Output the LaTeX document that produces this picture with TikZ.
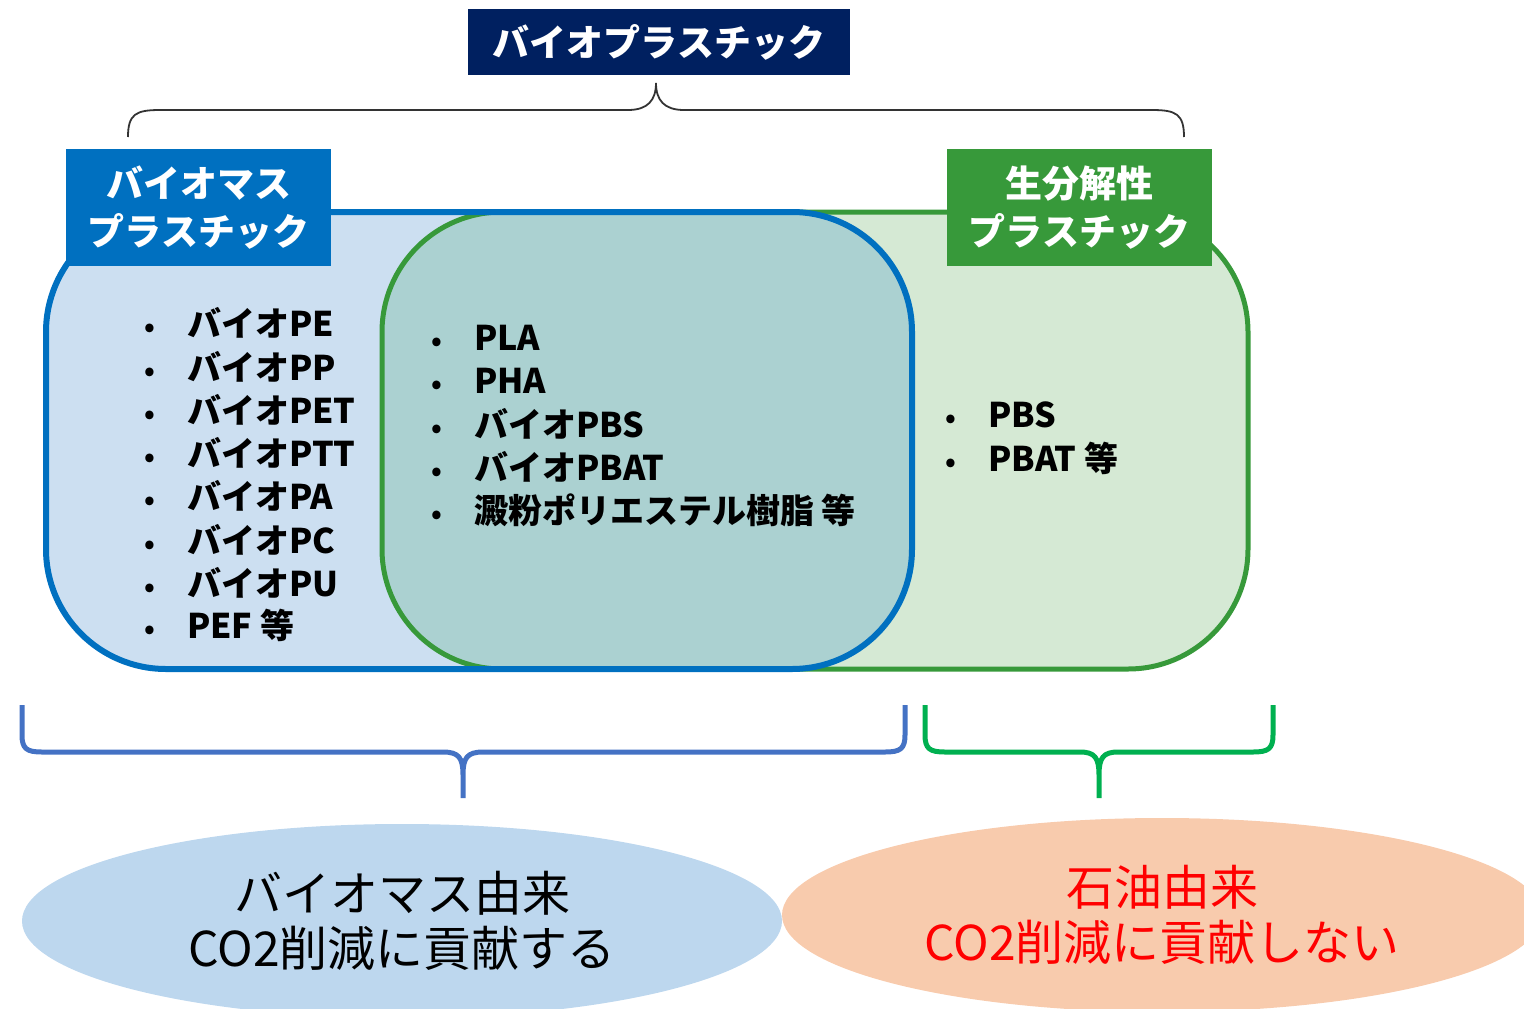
\documentclass[tikz,border=0pt]{standalone}
\usepackage{fontspec}
\newfontfamily\jp{Noto Sans CJK JP}
\usetikzlibrary{shapes.geometric}
\definecolor{navybox}{HTML}{002060}
\definecolor{bblue}{HTML}{0070C0}
\definecolor{bgreen}{HTML}{37993A}
\definecolor{lblue}{HTML}{CCDFF1}
\definecolor{lgreen}{HTML}{D5E9D4}
\definecolor{mixfill}{HTML}{ABD1D1}
\definecolor{braceblue}{HTML}{4472C4}
\definecolor{bracegreen}{HTML}{00B050}
\definecolor{ellblue}{HTML}{BDD7EE}
\definecolor{ellorange}{HTML}{F8CBAD}
\tikzset{
  labelbox/.style={minimum width=265pt, minimum height=117pt, inner sep=0pt, text=white, align=center,
    font=\jp\bfseries\fontsize{37}{48}\selectfont},
  item/.style={anchor=west, inner sep=0pt, text height=0.88em, text depth=0.12em,
    font=\jp\bfseries\fontsize{34}{40}\selectfont},
  bul/.style={inner sep=0pt, text height=0.88em, text depth=0.12em,
    font=\jp\bfseries\fontsize{27}{30}\selectfont},
  bracestyle/.style={line width=5pt, line join=round},
  ellnode/.style={ellipse, inner sep=0pt, minimum width=760pt, minimum height=194pt, align=center,
    font=\jp\fontsize{48}{55}\selectfont}
}
\begin{document}
\begin{tikzpicture}[x=1pt,y=-1pt]
\useasboundingbox (0,0) rectangle (1524,1009);
\clip (0,0) rectangle (1524,1009);
% title
\node[fill=navybox, minimum width=382pt, minimum height=66pt, inner sep=0pt, text=white,
  font=\jp\bfseries\fontsize{37}{44}\selectfont] (title) at (659,42) {バイオプラスチック};
% top brace
\draw[line width=1.8pt, draw=black!80]
  (128,137) .. controls (128,114) and (136,110) .. (160,110) -- (628,110)
  .. controls (648,110) and (656,100) .. (656,83)
  .. controls (656,100) and (664,110) .. (684,110) -- (1152,110)
  .. controls (1176,110) and (1184,114) .. (1184,137);
% fills
\fill[lgreen] (382,212) [rounded corners=120pt] rectangle (1248,669);
\fill[lblue] (46,212) [rounded corners=120pt] rectangle (912,669);
\begin{scope}
  \clip (46,212) [rounded corners=120pt] rectangle (912,669);
  \fill[mixfill] (382,212) [rounded corners=120pt] rectangle (1248,669);
\end{scope}
% outlines
\draw[bgreen, line width=5pt] (382,212) [rounded corners=120pt] rectangle (1248,669);
\draw[bblue, line width=6pt] (46,212) [rounded corners=120pt] rectangle (912,669);
% labels
\node[labelbox, fill=bblue] (biomass) at (198.5,207.5) {バイオマス\\プラスチック};
\node[labelbox, fill=bgreen] (biodeg) at (1079.5,207.5) {生分解性\\プラスチック};
% left list
\foreach \t/\y [count=\i] in {バイオPE/333, バイオPP/377, バイオPET/420, バイオPTT/463, バイオPA/506, バイオPC/550, バイオPU/593, PEF 等/635}{
  \node[bul] (lb\i) at (150,\y) {•};
  \node[item] (li\i) at (187,\y) {\t};
}
% middle list
\foreach \t/\y [count=\i] in {PLA/347, PHA/390, バイオPBS/434, バイオPBAT/477, 澱粉ポリエステル樹脂 等/520}{
  \node[bul] (mb\i) at (437,\y) {•};
  \node[item] (mi\i) at (474,\y) {\t};
}
% right list
\foreach \t/\y [count=\i] in {PBS/424, PBAT 等/468}{
  \node[bul] (rb\i) at (951,\y) {•};
  \node[item] (ri\i) at (988,\y) {\t};
}
% bottom braces
\draw[bracestyle, braceblue]
  (22,705) -- (22,735) .. controls (22,749) and (27,752) .. (42,752) -- (443,752)
  .. controls (459,752) and (463,758) .. (463,775) -- (463,798)
  (463,775) .. controls (463,758) and (467,752) .. (483,752) -- (885,752)
  .. controls (900,752) and (905,749) .. (905,735) -- (905,705);
\draw[bracestyle, bracegreen]
  (925,705) -- (925,735) .. controls (925,749) and (930,752) .. (945,752) -- (1080,752)
  .. controls (1095,752) and (1099,758) .. (1099,775) -- (1099,798)
  (1099,775) .. controls (1099,758) and (1103,752) .. (1118,752) -- (1253,752)
  .. controls (1268,752) and (1273,749) .. (1273,735) -- (1273,705);
% ellipses
\node[ellnode, fill=ellblue] (bioel) at (402,921) {バイオマス由来\\CO2削減に貢献する};
\node[ellnode, fill=ellorange, text=red] (petel) at (1162,915) {石油由来\\CO2削減に貢献しない};
\end{tikzpicture}
\end{document}
